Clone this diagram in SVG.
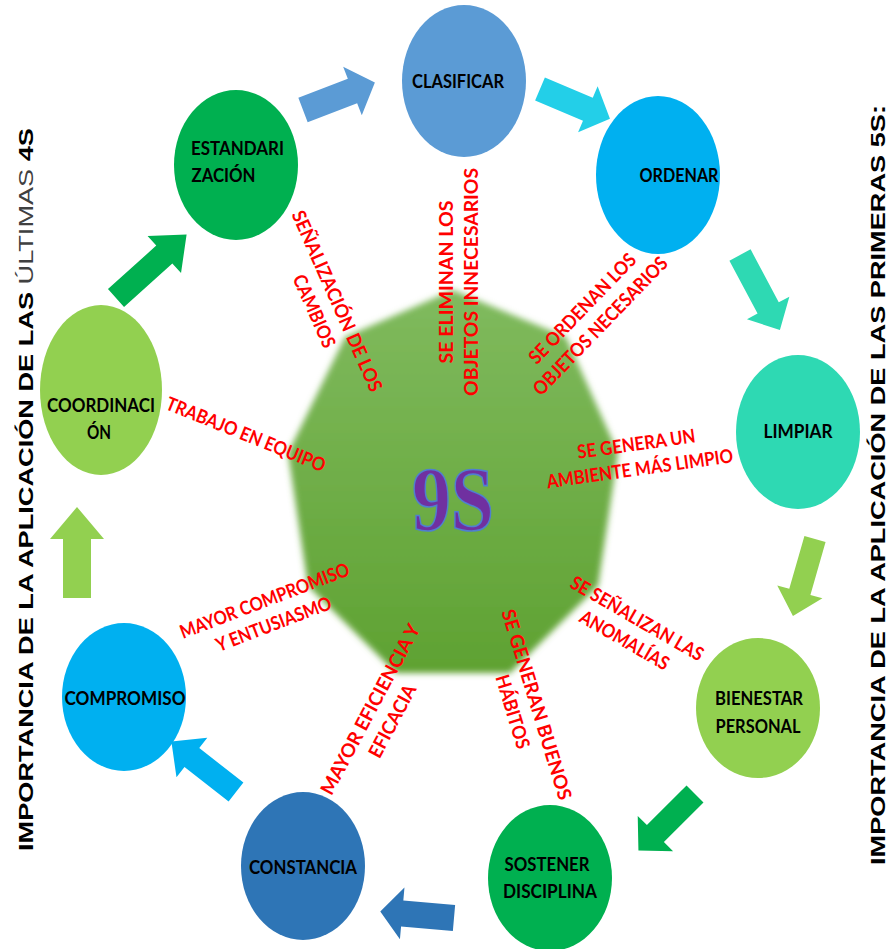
<svg xmlns="http://www.w3.org/2000/svg" width="890" height="949" viewBox="0 0 890 949">
  <defs>
    <linearGradient id="coreFill" x1="0" y1="0" x2="0" y2="1">
      <stop offset="0" stop-color="#80BA5E"/>
      <stop offset="1" stop-color="#5FA232"/>
    </linearGradient>
    <filter id="softEdge" x="-10%" y="-10%" width="120%" height="120%">
      <feGaussianBlur stdDeviation="3"/>
    </filter>
    <style>
      .node-label { font-family: Lato, "Open Sans", sans-serif; font-weight: 700; font-size: 18px; fill: #000; text-anchor: middle; }
      .benefit { font-family: Lato, "Open Sans", sans-serif; font-weight: 700; font-size: 19px; fill: #FF0000; text-anchor: middle; }
      .side-title { font-family: "Liberation Sans", Arial, sans-serif; font-weight: 700; font-size: 21px; fill: #000; text-anchor: middle; }
      .core-title { font-family: "Liberation Serif", "DejaVu Serif", serif; font-weight: 700; font-size: 90px; fill: #7030A0; stroke: #4F7FD0; stroke-width: 1.6; text-anchor: middle; }
    </style>
  </defs>

  <rect width="890" height="949" fill="#FFFFFF"/>

  <!-- central nonagon -->
  <g id="core">
    <polygon points="453,290 566,337 618,453 598,586 510,673 396,673 308,586 288,453 345,337" fill="url(#coreFill)" filter="url(#softEdge)"/>
    <text class="core-title" x="453" y="530" textLength="82" lengthAdjust="spacingAndGlyphs">9S</text>
  </g>

  <!-- block arrows between the stages -->
  <g id="connectors">
    <polygon transform="translate(303,110) rotate(-21)" fill="#5B9BD5" points="0,-13 53,-13 53,-26 77,0 53,26 53,13 0,13"/>
    <polygon transform="translate(540,89) rotate(23)" fill="#23CFE8" points="0,-12.5 52,-12.5 52,-25 76,0 52,25 52,12.5 0,12.5"/>
    <polygon transform="translate(740,255) rotate(62)" fill="#2ED9B3" points="0,-12 60,-12 60,-24 85,0 60,24 60,12 0,12"/>
    <polygon transform="translate(815,539) rotate(106)" fill="#92D050" points="0,-11 55,-11 55,-23.5 80,0 55,23.5 55,11 0,11"/>
    <polygon transform="translate(695,794) rotate(135)" fill="#00B050" points="0,-12 56,-12 56,-25 80,0 56,25 56,12 0,12"/>
    <polygon transform="translate(454,918) rotate(185)" fill="#2E75B6" points="0,-13 52,-13 52,-26 74,0 52,26 52,13 0,13"/>
    <polygon transform="translate(236,792) rotate(218)" fill="#00B0F0" points="0,-12 56,-12 56,-25 82,0 56,25 56,12 0,12"/>
    <polygon transform="translate(77,598) rotate(-90)" fill="#92D050" points="0,-14 59,-14 59,-27 91,0 59,27 59,14 0,14"/>
    <polygon transform="translate(116,298) rotate(-42)" fill="#00B050" points="0,-12 65,-12 65,-25 95,0 65,25 65,12 0,12"/>
  </g>

  <!-- stages -->
  <g id="clasificar">
    <ellipse cx="464" cy="81" rx="62" ry="76" fill="#5B9BD5"/>
    <text class="node-label" x="458" y="88" textLength="92" lengthAdjust="spacingAndGlyphs">CLASIFICAR</text>
  </g>
  <g id="ordenar">
    <ellipse cx="658" cy="175" rx="62" ry="79" fill="#00B0F0"/>
    <text class="node-label" x="679" y="182" textLength="79" lengthAdjust="spacingAndGlyphs">ORDENAR</text>
  </g>
  <g id="limpiar">
    <ellipse cx="798" cy="432" rx="62" ry="77" fill="#2ED9B3"/>
    <text class="node-label" x="798" y="438" textLength="69" lengthAdjust="spacingAndGlyphs">LIMPIAR</text>
  </g>
  <g id="bienestar-personal">
    <ellipse cx="758" cy="708" rx="62" ry="70" fill="#92D050"/>
    <text class="node-label" x="759" y="705" textLength="88" lengthAdjust="spacingAndGlyphs">BIENESTAR</text>
    <text class="node-label" x="758" y="733" textLength="85" lengthAdjust="spacingAndGlyphs">PERSONAL</text>
  </g>
  <g id="sostener-disciplina">
    <ellipse cx="550" cy="878" rx="62" ry="73" fill="#00B050"/>
    <text class="node-label" x="547" y="871" textLength="85" lengthAdjust="spacingAndGlyphs">SOSTENER</text>
    <text class="node-label" x="550" y="898" textLength="94" lengthAdjust="spacingAndGlyphs">DISCIPLINA</text>
  </g>
  <g id="constancia">
    <ellipse cx="303" cy="866" rx="62" ry="74" fill="#2E75B6"/>
    <text class="node-label" x="303" y="874" textLength="108" lengthAdjust="spacingAndGlyphs">CONSTANCIA</text>
  </g>
  <g id="compromiso">
    <ellipse cx="124" cy="697" rx="62" ry="74" fill="#00B0F0"/>
    <text class="node-label" x="125" y="705" textLength="121" lengthAdjust="spacingAndGlyphs">COMPROMISO</text>
  </g>
  <g id="coordinacion">
    <ellipse cx="101" cy="390" rx="61" ry="85" fill="#92D050"/>
    <text class="node-label" x="101" y="412" textLength="108" lengthAdjust="spacingAndGlyphs">COORDINACI</text>
    <text class="node-label" x="99" y="439" textLength="24" lengthAdjust="spacingAndGlyphs">ÓN</text>
  </g>
  <g id="estandarizacion">
    <ellipse cx="236" cy="165" rx="62" ry="75" fill="#00B050"/>
    <text class="node-label" x="237.5" y="155" textLength="93" lengthAdjust="spacingAndGlyphs">ESTANDARI</text>
    <text class="node-label" x="223.5" y="182" textLength="64" lengthAdjust="spacingAndGlyphs">ZACIÓN</text>
  </g>

  <!-- benefit labels radiating from the core -->
  <g id="benefit-clasificar" transform="translate(458,282) rotate(-90)">
    <text class="benefit" x="0" y="-5.5" textLength="163" lengthAdjust="spacingAndGlyphs">SE ELIMINAN LOS</text>
    <text class="benefit" x="0" y="19.5" textLength="228" lengthAdjust="spacingAndGlyphs">OBJETOS INNECESARIOS</text>
  </g>
  <g id="benefit-ordenar" transform="translate(591,317) rotate(-46)">
    <text class="benefit" x="0" y="-5.5" textLength="145" lengthAdjust="spacingAndGlyphs">SE ORDENAN LOS</text>
    <text class="benefit" x="0" y="19.5" textLength="184" lengthAdjust="spacingAndGlyphs">OBJETOS NECESARIOS</text>
  </g>
  <g id="benefit-limpiar" transform="translate(638,456) rotate(-8)">
    <text class="benefit" x="0" y="-5.5" textLength="119" lengthAdjust="spacingAndGlyphs">SE GENERA UN</text>
    <text class="benefit" x="0" y="19.5" textLength="188" lengthAdjust="spacingAndGlyphs">AMBIENTE MÁS LIMPIO</text>
  </g>
  <g id="benefit-bienestar" transform="translate(631,629) rotate(30)">
    <text class="benefit" x="0" y="-5.5" textLength="150" lengthAdjust="spacingAndGlyphs">SE SEÑALIZAN LAS</text>
    <text class="benefit" x="0" y="19.5" textLength="100" lengthAdjust="spacingAndGlyphs">ANOMALÍAS</text>
  </g>
  <g id="benefit-sostener" transform="translate(525,708) rotate(73)">
    <text class="benefit" x="0" y="-5.5" textLength="198" lengthAdjust="spacingAndGlyphs">SE GENERAN BUENOS</text>
    <text class="benefit" x="0" y="19.5" textLength="76" lengthAdjust="spacingAndGlyphs">HÁBITOS</text>
  </g>
  <g id="benefit-constancia" transform="translate(381,715) rotate(-62)">
    <text class="benefit" x="0" y="-5.5" textLength="190" lengthAdjust="spacingAndGlyphs">MAYOR EFICIENCIA Y</text>
    <text class="benefit" x="0" y="19.5" textLength="80" lengthAdjust="spacingAndGlyphs">EFICACIA</text>
  </g>
  <g id="benefit-compromiso" transform="translate(269,612) rotate(-21)">
    <text class="benefit" x="0" y="-5.5" textLength="180" lengthAdjust="spacingAndGlyphs">MAYOR COMPROMISO</text>
    <text class="benefit" x="0" y="19.5" textLength="122" lengthAdjust="spacingAndGlyphs">Y ENTUSIASMO</text>
  </g>
  <g id="benefit-coordinacion" transform="translate(246,434) rotate(22)">
    <text class="benefit" x="0" y="7" textLength="170" lengthAdjust="spacingAndGlyphs">TRABAJO EN EQUIPO</text>
  </g>
  <g id="benefit-estandarizacion" transform="translate(326,306) rotate(66)">
    <text class="benefit" x="0" y="-5.5" textLength="196" lengthAdjust="spacingAndGlyphs">SEÑALIZACIÓN DE LOS</text>
    <text class="benefit" x="0" y="19.5" textLength="78" lengthAdjust="spacingAndGlyphs">CAMBIOS</text>
  </g>

  <!-- side titles -->
  <g id="title-last-4s" transform="translate(33,489.5) rotate(-90)">
    <text class="side-title" x="0" y="0" textLength="723" lengthAdjust="spacingAndGlyphs">IMPORTANCIA DE LA APLICACIÓN DE LAS <tspan fill="#404040" font-weight="400">ÚLTIMAS</tspan> 4S</text>
  </g>
  <g id="title-first-5s" transform="translate(885,485) rotate(-90)">
    <text class="side-title" x="0" y="0" textLength="760" lengthAdjust="spacingAndGlyphs">IMPORTANCIA DE LA APLICACIÓN DE LAS PRIMERAS 5S:</text>
  </g>
</svg>
